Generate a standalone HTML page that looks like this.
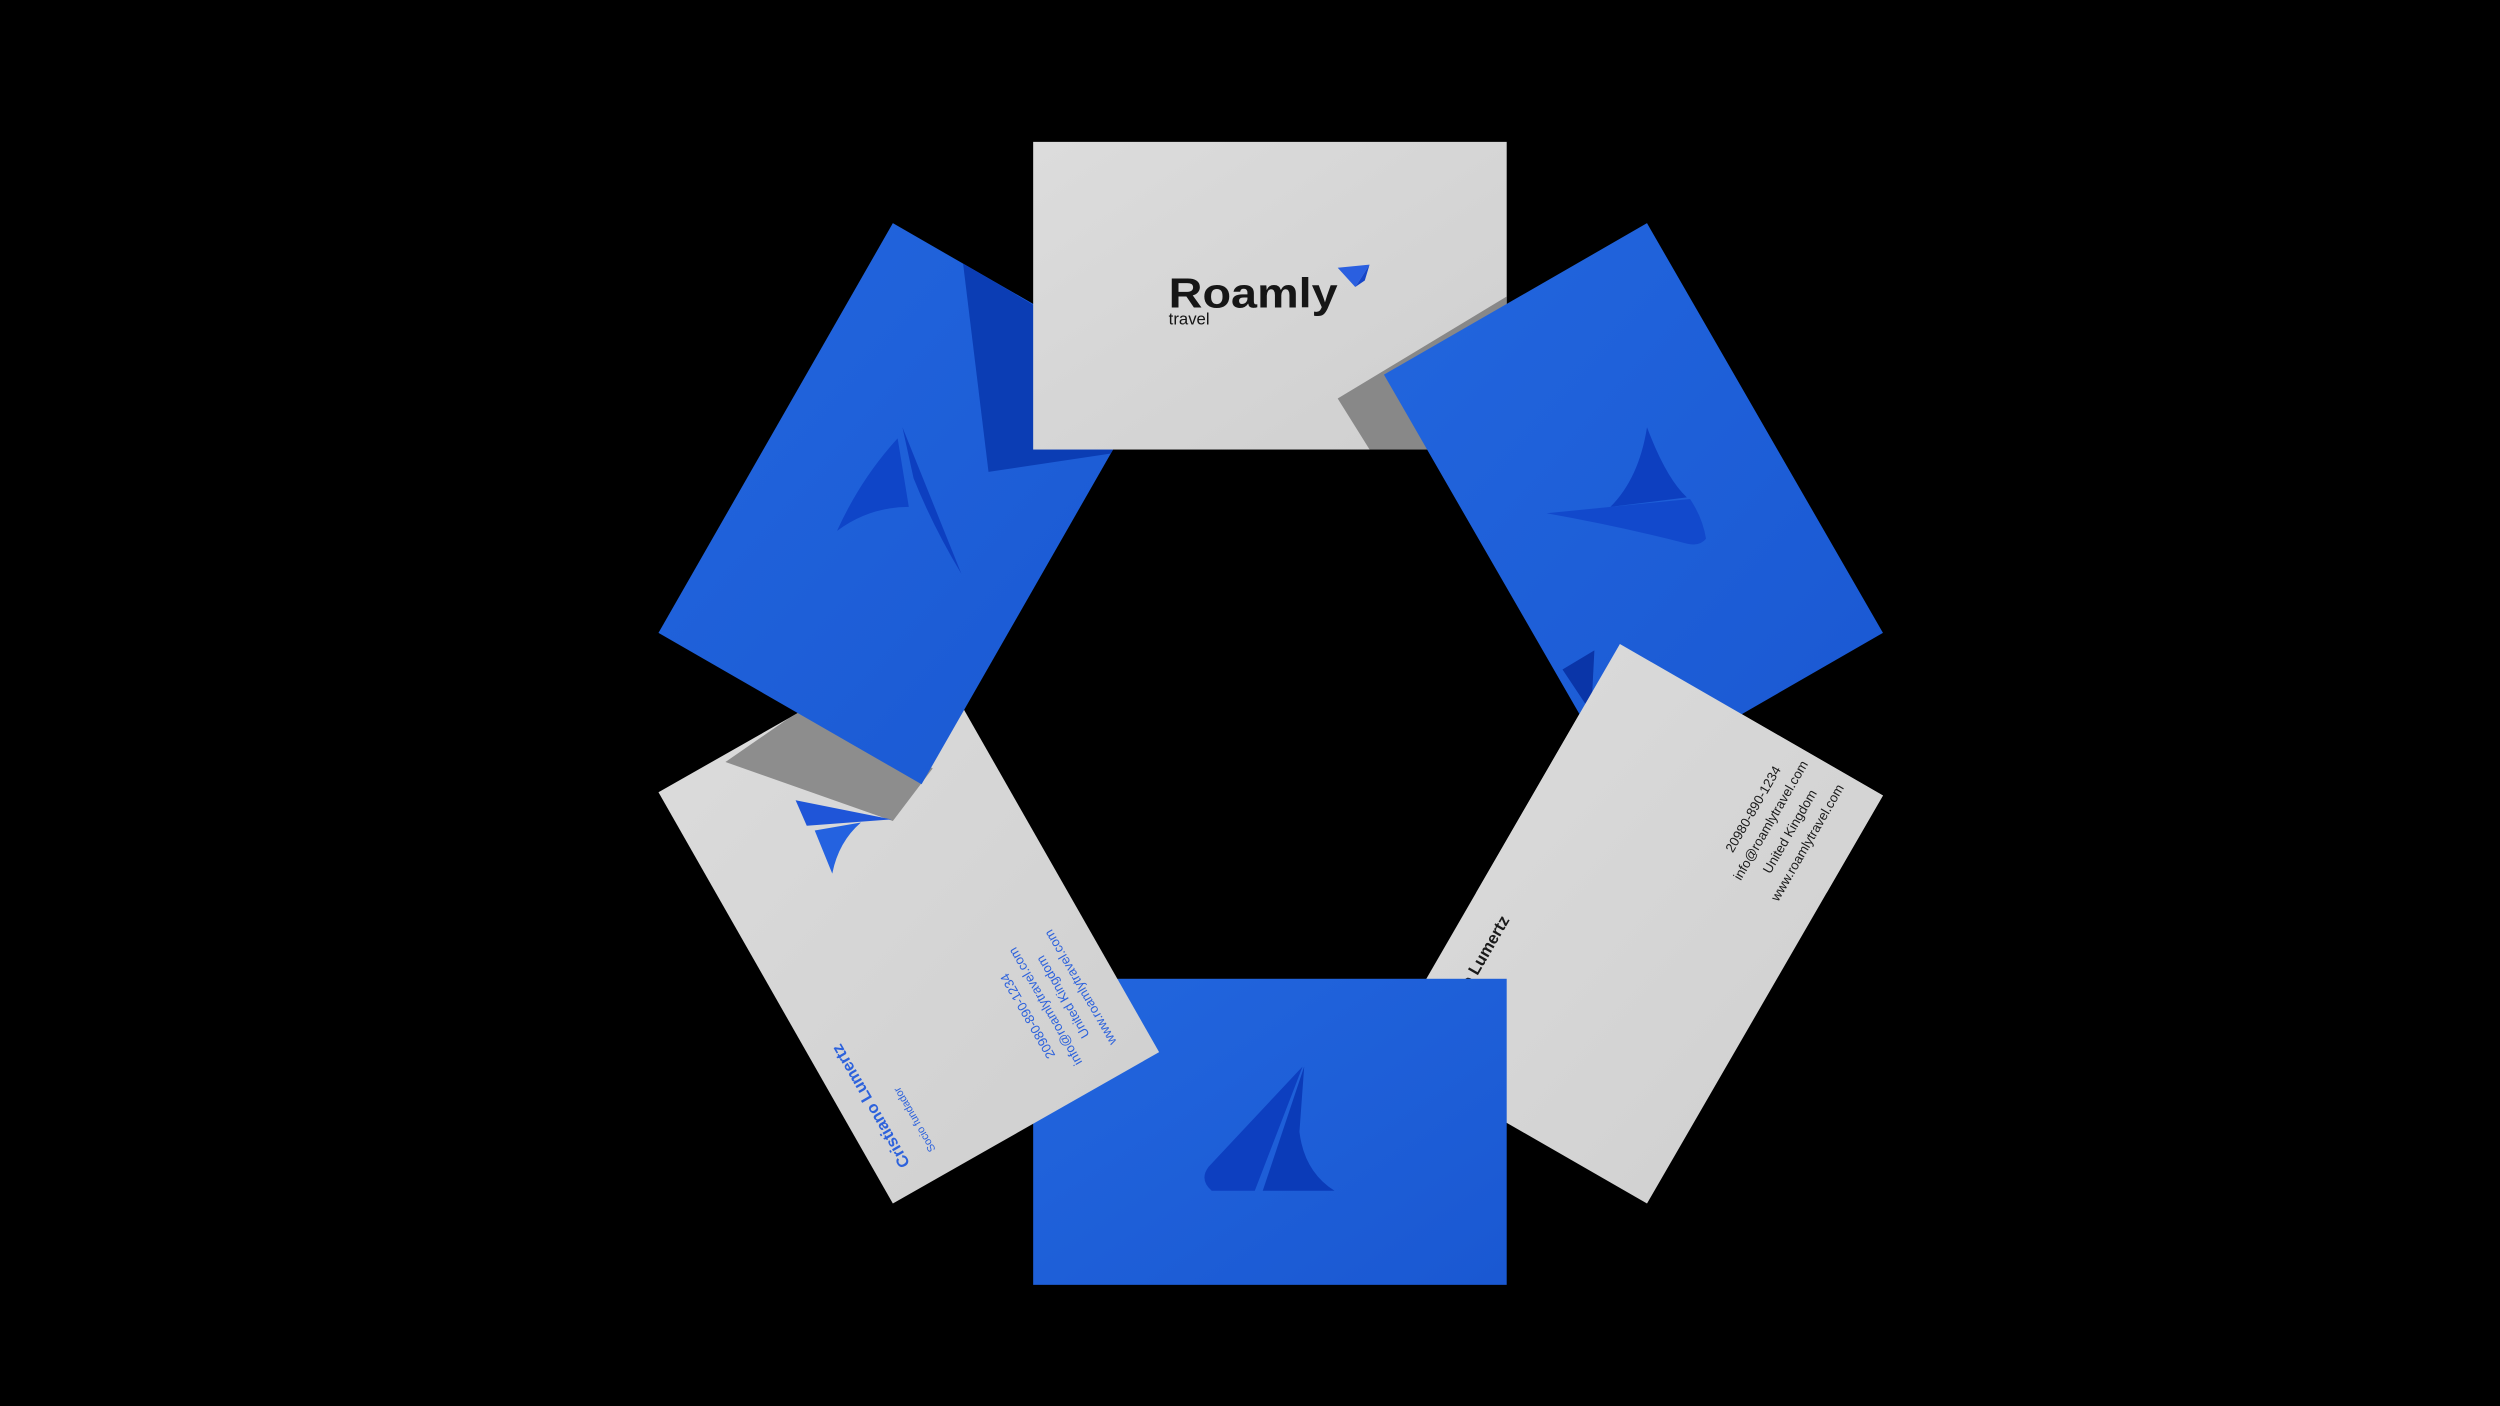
<!DOCTYPE html>
<html><head><meta charset="utf-8"><style>
html,body{margin:0;padding:0;background:#000;}
svg{display:block;}
text{font-family:"Liberation Sans",sans-serif;}
</style></head><body>
<svg width="2500" height="1406" viewBox="0 0 1568 882" preserveAspectRatio="none" xmlns="http://www.w3.org/2000/svg">
<defs>
<linearGradient id="bl" x1="0" y1="0" x2="1" y2="1"><stop offset="0" stop-color="#2266de"/><stop offset="1" stop-color="#1a58d2"/></linearGradient>
<linearGradient id="wh" x1="0" y1="0" x2="1" y2="1"><stop offset="0" stop-color="#dcdcdc"/><stop offset="1" stop-color="#cfcfcf"/></linearGradient>
<clipPath id="cUL"><polygon points="560,140 725,235 578,492 413,397"/></clipPath>
<clipPath id="cTop"><rect x="648" y="89" width="297" height="193"/></clipPath>
<clipPath id="cLL"><polygon points="413,497 580,402 727,660 560,755"/></clipPath>
<clipPath id="cUpper"><rect x="0" y="0" width="1568" height="560"/></clipPath>
<g id="lrcard">
<polygon points="1016,404 1181,499 1033,755 868,660" fill="url(#wh)"/>
<g font-size="8.3" text-anchor="middle" fill="#1a1a1a">
<text transform="translate(1102,509) rotate(-60)">20980-890-1234</text>
<text transform="translate(1113,516) rotate(-60)">info@roamlytravel.com</text>
<text transform="translate(1125,523) rotate(-60)">United Kingdom</text>
<text transform="translate(1136,530) rotate(-60)">www.roamlytravel.com</text>
</g>
<text transform="translate(947,577) rotate(-60)" font-size="10.5" font-weight="bold" fill="#1a1a1a" text-anchor="end">Cristiano Lumertz</text>
</g>
</defs>
<rect width="1568" height="882" fill="#000"/>

<!-- lower-right white card (base) -->
<use href="#lrcard"/>

<!-- bottom blue card -->
<rect x="648" y="614" width="297" height="192" fill="url(#bl)"/>
<path d="M817,669 L787,747 L760,747 Q752,740 758,732 Z" fill="#0d3fc0"/>
<path d="M818,669 L792,747 L837,747 Q818,735 815,710 Z" fill="#0b3bb8"/>

<!-- lower-left white card -->
<polygon points="413,497 580,402 727,660 560,755" fill="url(#wh)"/>
<g clip-path="url(#cLL)">
<polygon points="455,478 510,440 585,482 560,515" fill="#8d8d8d"/>
</g>
<polygon points="499,502 559,514 506,518" fill="#1f55d8"/>
<path d="M511,521 L540,516 Q526,528 522,548 Z" fill="#2462e0"/>
<g fill="#2d62dc">
<text transform="translate(571,730) rotate(-120)" font-size="10.3" font-weight="bold">Cristiano Lumertz</text>
<text transform="translate(587,721) rotate(-120)" font-size="6.8">Socio fundador</text>
<g font-size="8.2" text-anchor="middle">
<text transform="translate(647,636) rotate(-120)">20980-890-1234</text>
<text transform="translate(658,630) rotate(-120)">info@roamlytravel.com</text>
<text transform="translate(669,624) rotate(-120)">United Kingdom</text>
<text transform="translate(680,618) rotate(-120)">www.roamlytravel.com</text>
</g>
</g>

<!-- upper-left blue card -->
<polygon points="560,140 725,235 578,492 413,397" fill="url(#bl)"/>
<g clip-path="url(#cUL)">
<polygon points="604,165 730,240 700,284 620,296" fill="#0b3db4"/>
</g>
<path d="M566,268 L603,360 Q585,330 573,300 Z" fill="#0d3fc0"/>
<path d="M563,275 Q540,300 525,333 Q545,318 570,318 Z" fill="#0f45c8"/>

<!-- top white card -->
<rect x="648" y="89" width="297" height="193" fill="url(#wh)"/>
<g clip-path="url(#cTop)">
<polygon points="945,186 839,250 859,282 945,282" fill="#888"/>
</g>
<text x="733" y="193" font-size="26" font-weight="bold" fill="#161616" textLength="106" lengthAdjust="spacingAndGlyphs">Roamly</text>
<text x="733" y="203.5" font-size="10.5" fill="#161616">travel</text>
<polygon points="839,168 859,166 850,180" fill="#2a5fe0"/>
<polygon points="850,180 859,166 856,176" fill="#1545c8"/>

<!-- upper-right blue card -->
<polygon points="1033,140 1181,397 1016,492 868,235" fill="url(#bl)"/>
<path d="M1033,268 Q1045,300 1058,312 L1010,318 Q1028,300 1033,268 Z" fill="#0d3fc0"/>
<path d="M970,322 L1060,313 Q1068,325 1070,338 Q1066,343 1058,341 Q1015,330 970,322 Z" fill="#1249cc"/>
<polygon points="980,420 1000,408 998,447" fill="#0a35a8"/>

<!-- lower-right white card over upper-right blue -->
<g clip-path="url(#cUpper)"><use href="#lrcard"/></g>
</svg>
</body></html>
